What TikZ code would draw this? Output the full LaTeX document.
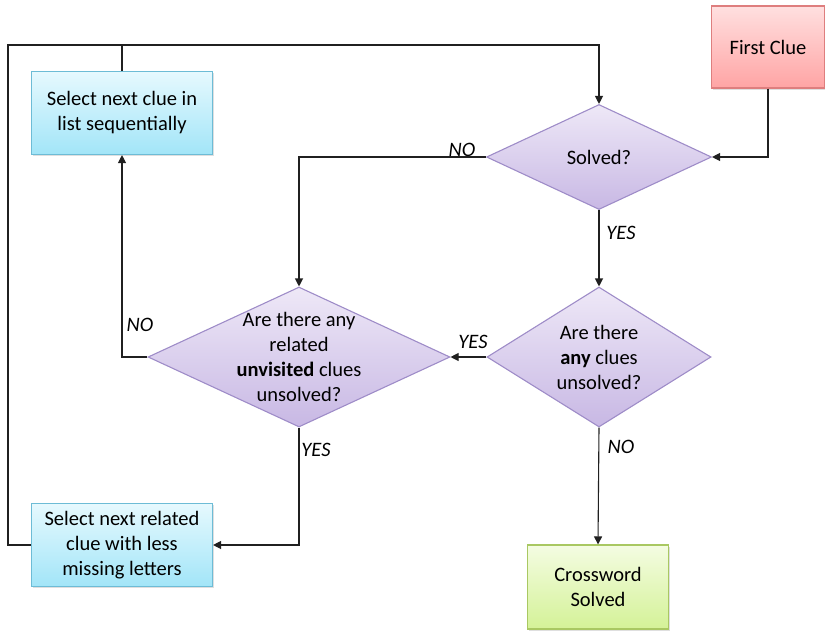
\documentclass[tikz,border=0pt]{standalone}
\usepackage{fontspec}
\setmainfont{Carlito}
\usetikzlibrary{arrows.meta, shapes.geometric, shadows}

\definecolor{clueRedTop}{HTML}{FFE0E0}
\definecolor{clueRedBot}{HTML}{FFA4A4}
\definecolor{clueRedLine}{HTML}{DE7E7E}
\definecolor{clueBlueTop}{HTML}{E6F9FE}
\definecolor{clueBlueBot}{HTML}{A2E5F8}
\definecolor{clueBlueLine}{HTML}{6DBCD6}
\definecolor{cluePurpTop}{HTML}{EEE8F7}
\definecolor{cluePurpBot}{HTML}{C8B8E4}
\definecolor{cluePurpLine}{HTML}{9E8CC8}
\definecolor{clueGreenTop}{HTML}{F4FCE2}
\definecolor{clueGreenBot}{HTML}{D4F297}
\definecolor{clueGreenLine}{HTML}{A9C862}
\definecolor{flowLine}{HTML}{202020}

\tikzset{
  box/.style={rectangle, draw, line width=1.1pt, inner sep=0pt, align=center,
    drop shadow={shadow xshift=1.5pt, shadow yshift=-1.5pt, opacity=0.25}},
  startbox/.style={box, draw=clueRedLine, top color=clueRedTop, bottom color=clueRedBot},
  actionbox/.style={box, draw=clueBlueLine, top color=clueBlueTop, bottom color=clueBlueBot},
  endbox/.style={box, draw=clueGreenLine, top color=clueGreenTop, bottom color=clueGreenBot},
  decision/.style={diamond, draw=cluePurpLine, line width=1.1pt, inner sep=0pt,
    top color=cluePurpTop, bottom color=cluePurpBot},
  question/.style={align=center, inner sep=0pt},
  answer/.style={font=\fontsize{20.5}{25}\selectfont\itshape, inner sep=0pt},
  flow/.style={draw=flowLine, line width=1.1pt}
}

\begin{document}
\begin{tikzpicture}[x=1pt, y=-1pt, >={Triangle[length=8pt,width=8pt]},
    every node/.style={font=\fontsize{20.5}{25}\selectfont}]

  \useasboundingbox (0,0) rectangle (825,630);

  % boxes
  \node[startbox, minimum width=113pt, minimum height=82pt] (first) at (768,47) {First Clue};
  \node[actionbox, minimum width=181pt, minimum height=83pt] (seq) at (122,113)
    {Select next clue in\\list sequentially};
  \node[actionbox, minimum width=181pt, minimum height=83pt] (next) at (122,545)
    {Select next related\\clue with less\\missing letters};
  \node[endbox, minimum width=141pt, minimum height=84pt] (done) at (598,587)
    {Crossword\\Solved};

  % decisions, text set on top
  \node[decision, minimum width=225pt, minimum height=105pt] (solved) at (599,157) {};
  \node[question] (solvedq) at (solved) {Solved?};
  \node[decision, minimum width=224pt, minimum height=140pt] (any) at (599,357) {};
  \node[question] (anyq) at (any) {Are there\\\textbf{any} clues\\unsolved?};
  \node[decision, minimum width=302pt, minimum height=140pt] (related) at (299,357) {};
  \node[question] (relatedq) at (related) {Are there any\\related\\\textbf{unvisited} clues\\unsolved?};

  \coordinate (loop) at (8,45);

  % connectors
  \path[flow, ->] (first.south) |- (solved.east);
  \path[flow, ->] (solved.south) -- (any.north);
  \path[flow, ->] (solved.west) -| (related.north);
  \path[flow, ->] (any.west) -- (related.east);
  \path[flow, ->] (any.south) -- (done.north);
  \path[flow, ->] (related.west) -| (seq.south);
  \path[flow, ->] (related.south) |- (next.east);
  \path[flow, ->] (next.west) -| (loop) -| (solved.north);
  \path[flow] (seq.north) -- (seq.north |- loop);

  % answers
  \node[answer] (solvedno) at (462,150) {NO};
  \node[answer] (solvedyes) at (621,233) {YES};
  \node[answer] (anyyes) at (473,342) {YES};
  \node[answer] (anyno) at (621,447) {NO};
  \node[answer] (relatedno) at (140,325) {NO};
  \node[answer] (relatedyes) at (316,450) {YES};

\end{tikzpicture}
\end{document}
